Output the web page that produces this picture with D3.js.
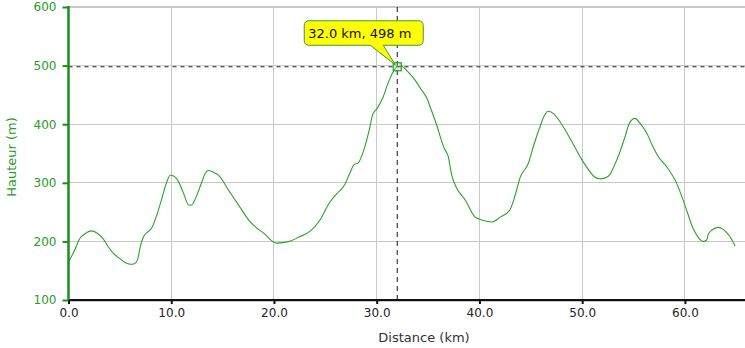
<!DOCTYPE html>
<html><head><meta charset="utf-8">
<script src="https://cdn.jsdelivr.net/npm/d3@7"></script>
<style>html,body{margin:0;padding:0;background:#fff;}svg{display:block;}</style>
</head><body>
<svg id="chart" width="745" height="348"></svg>
<script>
// Data
const distanceKm = [0,0.6,1.1,1.6,2.2,2.8,3.4,3.9,4.35,4.9,5.5,6.0,6.4,6.7,7.0,7.3,7.7,8.1,8.6,9.05,9.5,9.9,10.3,10.7,11.2,11.7,12.0,12.3,12.95,13.3,13.6,14.0,14.6,15.7,16.7,17.65,19.0,20.25,21.5,22.5,23.5,24.5,25.4,26.1,26.9,27.4,27.8,28.2,28.85,29.3,29.6,30.0,30.6,31.0,31.45,32.0,32.4,33.0,33.7,34.3,34.86,35.3,35.83,36.2,36.57,36.96,37.29,37.78,38.6,39.56,40.3,41.2,42.0,42.97,43.5,43.94,44.75,45.3,45.9,46.3,46.7,47.2,48.0,49.0,49.95,50.76,51.2,51.73,52.2,52.7,53.2,53.68,54.2,54.6,55.14,55.7,56.28,56.8,57.4,58.2,59.2,60.0,60.8,61.3,61.8,62.1,62.3,62.6,63.25,63.7,64.07,64.5,64.88];
const elevationM = [165,185,205,213,218,214,204,190,180,172,164,161,162,168,192,208,216,223,245,271,298,313,311,302,282,262,262,271,300,316,321,319,313,284,258,234,214,197,200,208,217,237,266,281,297,317,331,334,362,392,416,426,445,465,484,498,499,490,476,460,445,425,399,378,359,345,314,291,271,242,236,233,241,254,280,308,333,365,396,414,422,418,400,370,340,319,310,307,308,314,332,353,380,402,410,400,385,365,345,328,299,262,222,207,200,202,213,219,224,221,215,205,192];
const xTicks = [0,10,20,30,40,50,60];
const yTicks = [100,200,300,400,500,600];
const xDomain = [0, 65.85];
const yDomain = [100, 600];
const cursorKm = 32.0;
const cursorM = 498;
const xTitle = "Distance (km)";
const yTitle = "Hauteur (m)";

const svg = d3.select("#chart");
const L = 68.5, R = 745, T = 7, B = 300;
const x = d3.scaleLinear().domain(xDomain).range([L, R]);
const y = d3.scaleLinear().domain(yDomain).range([B, T]);
const green = "#1e8c1e";
const lineGreen = "#2f9f2f";
const font = "DejaVu Sans, Verdana, sans-serif";

// grid
const g = svg.append("g");
g.selectAll("line.vg").data(xTicks.filter(d => d > 0)).enter().append("line")
  .attr("x1", d => x(d)).attr("x2", d => x(d)).attr("y1", T).attr("y2", B)
  .attr("stroke", "#c8c8c8").attr("stroke-width", 1).attr("shape-rendering","crispEdges");
g.selectAll("line.hg").data(yTicks.filter(d => d > 100)).enter().append("line")
  .attr("x1", L).attr("x2", R).attr("y1", d => y(d)).attr("y2", d => y(d))
  .attr("stroke", "#c8c8c8").attr("stroke-width", d => d === 600 ? 2 : 1).attr("shape-rendering","crispEdges");
// bottom gray under axis
g.append("line").attr("x1", L).attr("x2", R).attr("y1", B + 1.5).attr("y2", B + 1.5)
  .attr("stroke", "#c8c8c8").attr("stroke-width", 1);

// line
const data = distanceKm.map((d, i) => [d, elevationM[i]]);
svg.append("path").datum(data)
  .attr("fill", "none").attr("stroke", lineGreen).attr("stroke-width", 1.1)
  .attr("d", d3.line().x(d => x(d[0])).y(d => y(d[1])).curve(d3.curveMonotoneX));

// crosshair
svg.append("line").attr("x1", L).attr("x2", R).attr("y1", y(cursorM)).attr("y2", y(cursorM))
  .attr("stroke", "#222").attr("stroke-dasharray", "4,4").attr("stroke-width", 1);
svg.append("line").attr("x1", x(cursorKm)).attr("x2", x(cursorKm)).attr("y1", T).attr("y2", B)
  .attr("stroke", "#111").attr("stroke-dasharray", "5,4").attr("stroke-width", 1);

// x axis
const xAxis = d3.axisBottom(x).tickValues(xTicks).tickFormat(d3.format(".1f")).tickSize(4).tickPadding(4);
const xa = svg.append("g").attr("transform", `translate(0,${B})`).call(xAxis);
xa.select(".domain").attr("stroke", "#111").attr("stroke-width", 2).attr("d", `M${L},0H${R}`);
xa.selectAll(".tick line").attr("stroke", "#111").attr("stroke-width", 2);
xa.selectAll(".tick text").attr("fill", "#222").style("font-family", font).style("font-size", "12px");

// y axis
const yAxis = d3.axisLeft(y).tickValues(yTicks).tickSize(6).tickPadding(6);
const ya = svg.append("g").attr("transform", `translate(${L},0)`).call(yAxis);
ya.select(".domain").attr("stroke", green).attr("stroke-width", 2.5).attr("d", `M0,${T-1}V${B}`);
ya.selectAll(".tick line").attr("stroke", green).attr("stroke-width", 2);
ya.selectAll(".tick text").attr("fill", "#2a9a2a").style("font-family", font).style("font-size", "12px");

// titles
svg.append("text").attr("x", 424).attr("y", 342).attr("text-anchor", "middle")
  .attr("fill", "#333").style("font-family", font).style("font-size", "13px").text(xTitle);
svg.append("text").attr("transform", `translate(16,157) rotate(-90)`).attr("text-anchor", "middle")
  .attr("fill", "#2a9a2a").style("font-family", font).style("font-size", "13px").text(yTitle);

// marker
const px = x(cursorKm), py = y(cursorM);
svg.append("rect").attr("x", px - 4).attr("y", py - 4).attr("width", 8).attr("height", 8)
  .attr("fill", "rgba(160,220,160,0.35)").attr("stroke", "#2a9a2a").attr("stroke-width", 1.2);

// tooltip
const bx0 = px - 93, bx1 = px + 26, by0 = py - 46, by1 = py - 21.5, r = 5;
const tip = [px - 2, py - 2];
const p = d3.path();
p.moveTo(bx0 + r, by0);
p.lineTo(bx1 - r, by0);
p.quadraticCurveTo(bx1, by0, bx1, by0 + r);
p.lineTo(bx1, by1 - r);
p.quadraticCurveTo(bx1, by1, bx1 - r, by1);
p.lineTo(px - 14, by1);
p.lineTo(tip[0], tip[1]);
p.lineTo(px - 27, by1);
p.lineTo(bx0 + r, by1);
p.quadraticCurveTo(bx0, by1, bx0, by1 - r);
p.lineTo(bx0, by0 + r);
p.quadraticCurveTo(bx0, by0, bx0 + r, by0);
p.closePath();
svg.append("path").attr("d", p.toString()).attr("fill", "#ffff00")
  .attr("stroke", "#3a9a3a").attr("stroke-width", 1);
svg.append("text").attr("x", bx0 + 4).attr("y", by0 + 17)
  .attr("fill", "#111").style("font-family", font).style("font-size", "13px")
  .text(`${d3.format(".1f")(cursorKm)} km, ${cursorM} m`);
</script>
</body></html>
